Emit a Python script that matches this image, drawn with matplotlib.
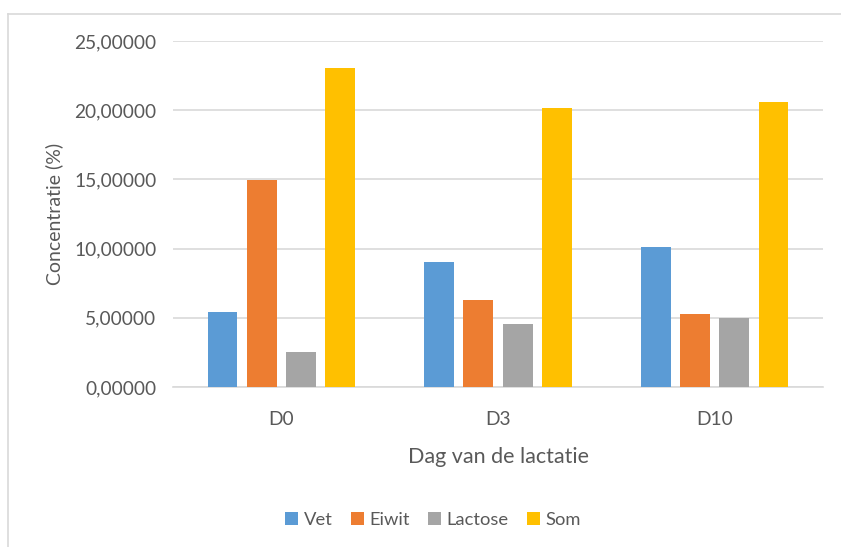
import matplotlib
matplotlib.use('Agg')

import matplotlib.pyplot as plt
import numpy as np
from matplotlib.lines import Line2D

# ============================================================
# DATA
# ============================================================

days = ["D0", "D3", "D10"]
series = ["Vet", "Eiwit", "Lactose", "Som"]
vet = [5.43, 9.00, 10.14]
eiwit = [14.97, 6.28, 5.31]
lactose = [2.53, 4.54, 5.00]
som = [23.05, 20.15, 20.59]
yticks = [0, 5, 10, 15, 20, 25]

colors = ["#5B9BD5", "#ED7D31", "#A5A5A5", "#FFC000"]
txt = "#595959"

# ============================================================
# STYLE
# ============================================================

plt.rcParams['font.family'] = ['Lato', 'DejaVu Sans']

fig = plt.figure(figsize=(8.41, 5.47), dpi=100)
W, H = 841, 547
ax = fig.add_axes([173 / W, 1 - 387 / H, 650 / W, 346 / H])

x = np.arange(len(days))
bw = 0.138
step = 0.181
for i, (name, vals) in enumerate(zip(series, [vet, eiwit, lactose, som])):
    ax.bar(x + (i - 1.5) * step, vals, width=bw, color=colors[i], label=name, zorder=3)

ax.set_xlim(-0.5, 2.5)
ax.set_ylim(0, 25)
ax.set_yticks(yticks)
ax.set_yticklabels([f"{v:.5f}".replace(".", ",") for v in yticks])
ax.set_xticks(x)
ax.set_xticklabels(days)
ax.tick_params(length=0, labelsize=13.8, colors=txt)
ax.tick_params(axis='y', pad=12)
ax.tick_params(axis='x', pad=17)

ax.grid(axis='y', color="#D9D9D9", lw=1.2, zorder=0)
for s in ['top', 'right', 'left']:
    ax.spines[s].set_visible(False)
ax.spines['bottom'].set_color("#D9D9D9")
ax.spines['bottom'].set_linewidth(1.2)

ax.set_ylabel("Concentratie (%)", fontsize=14, color=txt, labelpad=8)
ax.set_xlabel("Dag van de lactatie", fontsize=15.5, color=txt, labelpad=14)

ax.legend(loc='center', bbox_to_anchor=((433 - 173) / 650, -0.385), ncol=4, frameon=False,
          fontsize=13.2, labelcolor=txt, handlelength=0.7, handleheight=0.7,
          handletextpad=0.3, columnspacing=1.0)

# outer chart frame
fig.add_artist(Line2D([8 / W, 1], [1 - 14 / H, 1 - 14 / H], color="#D9D9D9", lw=1.2))
fig.add_artist(Line2D([8 / W, 8 / W], [0, 1 - 14 / H], color="#D9D9D9", lw=1.2))

plt.savefig("out.png", dpi=100)
plt.close()
